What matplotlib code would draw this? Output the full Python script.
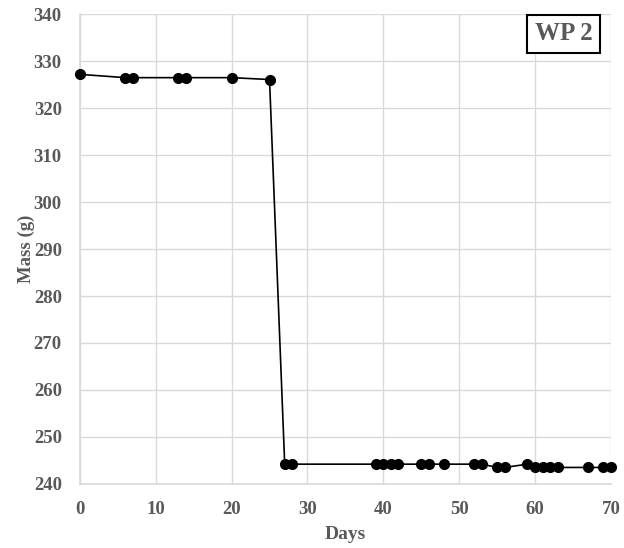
import matplotlib.pyplot as plt

# mass of WP 2 over time
days = [0, 6, 7, 13, 14, 20, 25, 27, 28, 39, 40, 41, 42, 45, 46, 48, 52, 53,
        55, 56, 59, 60, 61, 62, 63, 67, 69, 70]
mass = [327.2, 326.5, 326.5, 326.5, 326.5, 326.5, 326.1, 244.2, 244.2, 244.2,
        244.2, 244.2, 244.2, 244.2, 244.2, 244.2, 244.2, 244.2, 243.5, 243.5,
        244.2, 243.5, 243.5, 243.5, 243.5, 243.5, 243.5, 243.5]

x_ticks = list(range(0, 71, 10))
y_ticks = list(range(240, 341, 10))
label = "WP 2"

grey = "#595959"
grid = "#d9d9d9"

plt.rcParams["font.family"] = ["Liberation Serif", "DejaVu Serif"]

fig = plt.figure(figsize=(6.24, 5.48), dpi=100)
ax = fig.add_axes([0.128, 0.117, 0.851, 0.857])

ax.plot(days, mass, color="black", lw=1.2, marker="o", ms=7, zorder=3,
        clip_on=False)

ax.set_xlim(0, 70)
ax.set_ylim(240, 340)
ax.set_xticks(x_ticks)
ax.set_yticks(y_ticks)
ax.grid(True, color=grid, lw=1)
ax.set_axisbelow(True)
for side in ["top", "right"]:
    ax.spines[side].set_visible(False)
for side in ["left", "bottom"]:
    ax.spines[side].set_color(grid)
    ax.spines[side].set_linewidth(1.2)
ax.tick_params(length=0, labelsize=13.5, labelcolor=grey)
ax.tick_params(axis="x", pad=12)
ax.tick_params(axis="y", pad=13)
for t in ax.get_xticklabels() + ax.get_yticklabels():
    t.set_fontweight("bold")

ax.set_xlabel("Days", fontsize=14, fontweight="bold", color=grey, labelpad=6)
ax.set_ylabel("Mass (g)", fontsize=13.5, fontweight="bold", color=grey, labelpad=-1)

ax.text(0.965, 0.983, label, transform=ax.transAxes, ha="right", va="top",
        fontsize=18, fontweight="bold", color=grey,
        bbox=dict(boxstyle="square,pad=0.3", fc="white", ec="black", lw=1.5))

fig.savefig("out.png", dpi=100)
